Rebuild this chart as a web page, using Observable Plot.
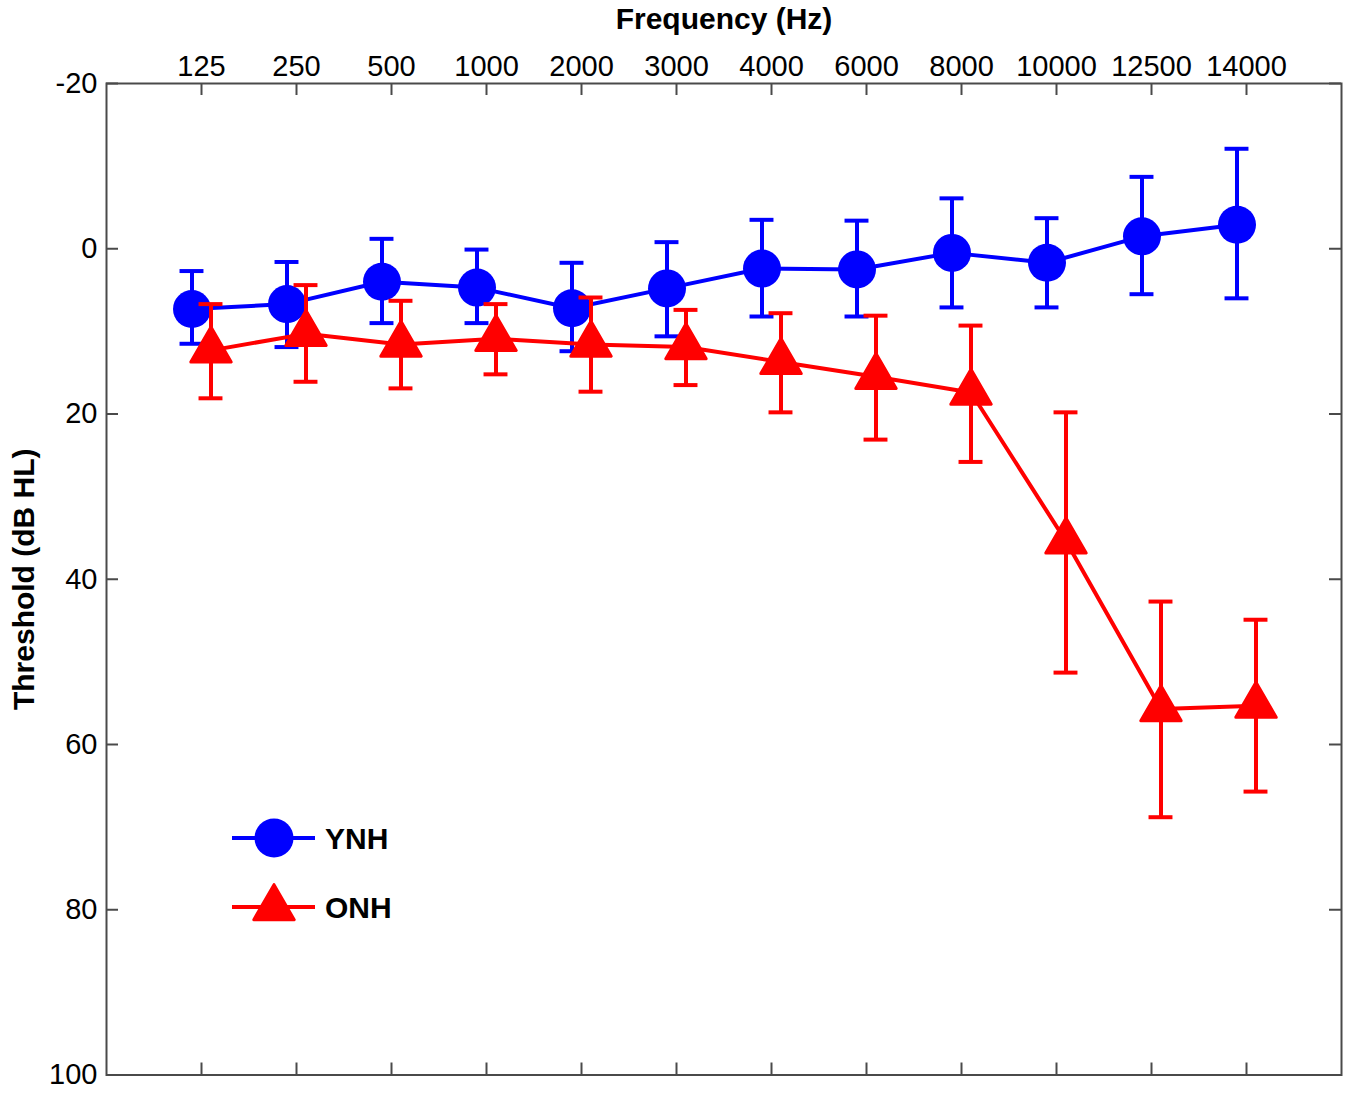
<!DOCTYPE html>
<html>
<head>
<meta charset="utf-8">
<script src="https://cdn.jsdelivr.net/npm/d3@7"></script>
<script src="https://cdn.jsdelivr.net/npm/@observablehq/plot@0.6"></script>
<style>
  html, body { margin: 0; padding: 0; background: #fff; }
  #chart svg { display: block; }
</style>
</head>
<body>
<div id="chart"></div>
<script>
// ---- data ----
const freqLabels = ["125","250","500","1000","2000","3000","4000","6000","8000","10000","12500","14000"];
const yTicks = [-20, 0, 20, 40, 60, 80, 100];
const seriesNames = ["YNH", "ONH"];
const seriesColors = ["#0000ff", "#ff0000"];

const ynhMean = [7.3, 6.7, 4.0, 4.7, 7.2, 4.8, 2.4, 2.5, 0.5, 1.7, -1.5, -2.9];
const ynhLo   = [2.7, 1.6, -1.2, 0.1, 1.7, -0.8, -3.5, -3.4, -6.1, -3.7, -8.7, -12.1];
const ynhHi   = [11.5, 11.9, 9.0, 9.0, 12.4, 10.6, 8.2, 8.2, 7.1, 7.1, 5.5, 6.0];

const onhMean = [12.3, 10.3, 11.6, 10.9, 11.6, 11.9, 13.7, 15.5, 17.4, 35.4, 55.7, 55.3];
const onhLo   = [6.7, 4.4, 6.3, 6.7, 5.9, 7.4, 7.8, 8.1, 9.3, 19.8, 42.7, 44.9];
const onhHi   = [18.1, 16.1, 16.9, 15.2, 17.3, 16.5, 19.8, 23.1, 25.8, 51.3, 68.8, 65.7];

// ---- layout ----
const W = 1350, H = 1093;
const mL = 106, mR = 9, mT = 83, mB = 18.5;
const frameW = W - mL - mR, frameH = H - mT - mB;
const tickLen = 12;
const off = 0.1;       // horizontal dodge of the two series (in category units)
const capHalf = 0.126; // error-bar cap half width (category units)

const idx = freqLabels.map((_, i) => i + 1);
const ynh = freqLabels.map((f, i) => ({x: i + 1 - off, m: ynhMean[i], lo: ynhLo[i], hi: ynhHi[i]}));
const onh = freqLabels.map((f, i) => ({x: i + 1 + off, m: onhMean[i], lo: onhLo[i], hi: onhHi[i]}));

const axisColor = "#4a4a4a";
const font = "'Liberation Sans', Arial, Helvetica, sans-serif";

function seriesMarks(data, color, dotOpts) {
  return [
    Plot.line(data, {x: "x", y: "m", stroke: color, strokeWidth: 4}),
    Plot.ruleX(data, {x: "x", y1: "lo", y2: "hi", stroke: color, strokeWidth: 4}),
    Plot.ruleY(data, {y: "lo", x1: d => d.x - capHalf, x2: d => d.x + capHalf, stroke: color, strokeWidth: 4}),
    Plot.ruleY(data, {y: "hi", x1: d => d.x - capHalf, x2: d => d.x + capHalf, stroke: color, strokeWidth: 4}),
    Plot.dot(data, {x: "x", y: "m", fill: color, ...dotOpts})
  ];
}

const chart = Plot.plot({
  width: W,
  height: H,
  marginLeft: mL,
  marginRight: mR,
  marginTop: mT,
  marginBottom: mB,
  style: {fontFamily: font, background: "#fff", color: "#000"},
  x: {domain: [0, 13]},
  y: {domain: [-20, 100], reverse: true},
  marks: [
    // inward tick marks on all four sides
    Plot.tickX(idx, {x: d => d, insetBottom: frameH - tickLen, stroke: axisColor, strokeWidth: 2}),
    Plot.tickX(idx, {x: d => d, insetTop: frameH - tickLen, stroke: axisColor, strokeWidth: 2}),
    Plot.tickY(yTicks, {y: d => d, insetRight: frameW - tickLen, stroke: axisColor, strokeWidth: 2}),
    Plot.tickY(yTicks, {y: d => d, insetLeft: frameW - tickLen, stroke: axisColor, strokeWidth: 2}),
    Plot.frame({stroke: axisColor, strokeWidth: 2}),
    Plot.axisX({anchor: "top", ticks: idx, tickSize: 0, tickPadding: 8, fontSize: 29,
                tickFormat: d => freqLabels[d - 1], label: null}),
    Plot.axisY({anchor: "left", ticks: yTicks, tickSize: 0, tickPadding: 9, fontSize: 29,
                tickFormat: d => String(d), label: null}),
    Plot.text(["Frequency (Hz)"], {frameAnchor: "top", dy: -55, lineAnchor: "bottom", textAnchor: "middle",
                text: d => d, fontSize: 30, fontWeight: "bold", fill: "#000"}),
    Plot.text(["Threshold (dB HL)"], {frameAnchor: "left", dx: -73, rotate: -90, lineAnchor: "bottom",
                textAnchor: "middle", text: d => d, fontSize: 30, fontWeight: "bold", fill: "#000"}),
    ...seriesMarks(ynh, seriesColors[0], {r: 19}),
    ...seriesMarks(onh, seriesColors[1], {r: 15, symbol: "triangle", stroke: seriesColors[1], strokeWidth: 3, strokeLinejoin: "round"})
  ]
});

// ---- legend inside the plot (lower left) ----
const svg = d3.select(chart);
const lg = svg.append("g").attr("font-family", font).attr("text-anchor", "start");
const legendRows = [838, 907];
seriesNames.forEach((name, i) => {
  const cy = legendRows[i];
  const g = lg.append("g");
  g.append("line").attr("x1", 232).attr("x2", 315).attr("y1", cy).attr("y2", cy)
    .attr("stroke", seriesColors[i]).attr("stroke-width", 4);
  if (i === 0) {
    g.append("circle").attr("cx", 274).attr("cy", cy).attr("r", 19.5).attr("fill", seriesColors[i]);
  } else {
    g.append("path").attr("d", d3.symbol(d3.symbolTriangle, Math.PI * 15 * 15)())
      .attr("transform", `translate(274,${cy + 1})`)
      .attr("fill", seriesColors[i]).attr("stroke", seriesColors[i])
      .attr("stroke-width", 3).attr("stroke-linejoin", "round");
  }
  g.append("text").attr("x", 325).attr("y", cy + 11).attr("font-size", 30)
    .attr("font-weight", "bold").attr("fill", "#000").attr("text-anchor", "start").text(name);
});

document.getElementById("chart").appendChild(chart);
</script>
</body>
</html>
